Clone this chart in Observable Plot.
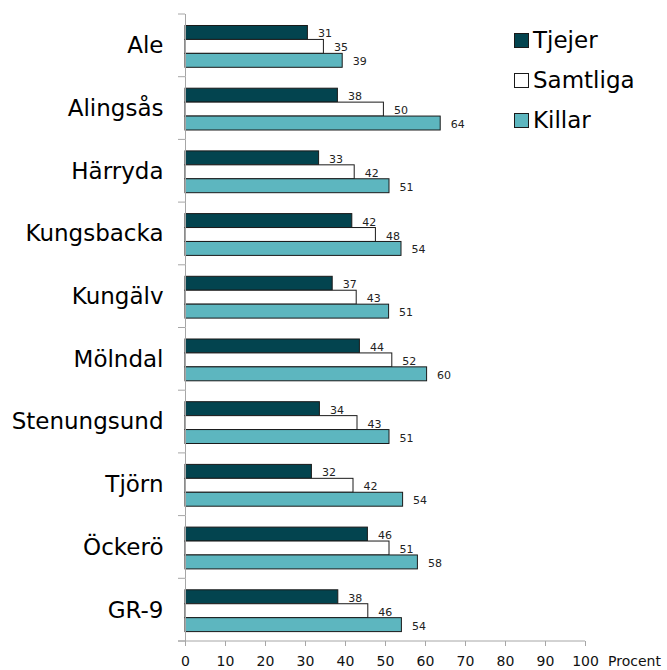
<!DOCTYPE html>
<html>
<head>
<meta charset="utf-8">
<script src="https://cdn.jsdelivr.net/npm/d3@7"></script>
<script src="https://cdn.jsdelivr.net/npm/@observablehq/plot@0.6"></script>
<style>
  html, body { margin: 0; padding: 0; background: #fff; }
  #wrap { position: relative; width: 667px; height: 670px; font-family: "DejaVu Sans", Verdana, sans-serif; }
  #wrap svg { display: block; }
  #legend { position: absolute; left: 514px; top: 20px; font-size: 23px; color: #000; }
  .row { display: flex; align-items: center; height: 40px; }
  .sw { width: 13px; height: 13px; border: 1px solid #1a1a1a; margin-right: 4px; box-sizing: content-box; }
</style>
</head>
<body>
<div id="wrap"><div id="legend"></div></div>
<script>
const categories = ["Ale", "Alingsås", "Härryda", "Kungsbacka", "Kungälv", "Mölndal", "Stenungsund", "Tjörn", "Öckerö", "GR-9"];
const series = ["Tjejer", "Samtliga", "Killar"];
const tjejer   = [30.6, 38.1, 33.4, 41.7, 36.8, 43.6, 33.6, 31.6, 45.6, 38.2];
const samtliga = [34.6, 49.6, 42.3, 47.6, 42.8, 51.7, 43.0, 42.0, 51.0, 45.7];
const killar   = [39.3, 63.8, 51.0, 54.0, 50.9, 60.4, 51.0, 54.4, 58.1, 54.1];
const xTicks = [0, 10, 20, 30, 40, 50, 60, 70, 80, 90, 100];
const colors = ["#03444f", "#ffffff", "#5db6bf"];
const unitLabel = "Procent";

const valuesBySeries = [tjejer, samtliga, killar];
const rows = categories.flatMap((c, i) => series.map((s, j) => ({kommun: c, grupp: s, value: valuesBySeries[j][i]})));

const chart = Plot.plot({
  width: 667,
  height: 670,
  marginTop: 14,
  marginBottom: 29,
  marginLeft: 185,
  marginRight: 82,
  style: {fontFamily: "DejaVu Sans, Verdana, sans-serif", background: "#fff"},
  x: {domain: [0, 100]},
  y: {domain: series, paddingInner: 0, paddingOuter: 0.75, align: 0.55, round: false, axis: null},
  fy: {domain: categories, padding: 0, round: false},
  color: {domain: series, range: colors},
  marks: [
    Plot.barX(rows, {fy: "kommun", y: "grupp", x: "value", fill: "grupp", stroke: "#1a1a1a", strokeWidth: 1}),
    Plot.text(rows, {fy: "kommun", y: "grupp", x: "value", text: d => d3.format(".0f")(d.value), dx: 10, dy: 1, textAnchor: "start", fontSize: 11, fill: "#222"}),
    Plot.ruleX([0], {stroke: "#a6a6a6", strokeWidth: 1}),
    Plot.axisFy({anchor: "left", tickSize: 0, tickPadding: 22, fontSize: 23, label: null, fill: "#000"}),
    Plot.axisX({ticks: xTicks, tickSize: 5, tickPadding: 10, fontSize: 14, label: null, stroke: "#a6a6a6", fill: "#111"})
  ]
});
document.getElementById("wrap").prepend(chart);

// axis decorations drawn from the library's scales
const fy = chart.scale("fy");
const xs = chart.scale("x");
const svg = d3.select(chart);
const x0 = xs.apply(0);
const bottom = fy.range[1];
const bounds = categories.map(c => fy.apply(c)).concat([bottom]);
const g = svg.append("g").attr("stroke", "#a6a6a6").attr("stroke-width", 1);
g.selectAll("line.b").data(bounds).join("line")
  .attr("x1", x0 - 7).attr("x2", x0).attr("y1", d => d).attr("y2", d => d);
g.append("line").attr("x1", x0 - 7).attr("x2", xs.apply(100)).attr("y1", bottom).attr("y2", bottom);
svg.append("text").attr("x", xs.apply(100) + 23).attr("y", bottom + 24.5)
  .attr("text-anchor", "start").attr("font-size", 14).attr("fill", "#111")
  .attr("font-family", "DejaVu Sans, Verdana, sans-serif").text(unitLabel);

// legend
const legend = d3.select("#legend");
series.forEach((s, i) => {
  const r = legend.append("div").attr("class", "row");
  r.append("div").attr("class", "sw").style("background", colors[i]);
  r.append("span").text(s);
});
</script>
</body>
</html>
